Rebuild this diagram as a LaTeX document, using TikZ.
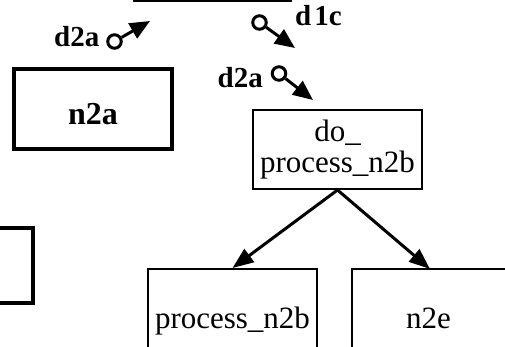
\documentclass[tikz,border=0pt]{standalone}
\usepackage{fontspec}
\setmainfont{Liberation Serif}
\usetikzlibrary{arrows.meta}
\tikzset{
  thickbox/.style={draw, line width=4pt, rectangle, inner sep=0pt, font=\fontsize{32}{34}\selectfont\bfseries},
  thinbox/.style={draw, line width=2pt, rectangle, inner sep=0pt, align=center, font=\fontsize{31}{31}\selectfont},
  edgelbl/.style={inner sep=0pt, font=\fontsize{29}{30}\selectfont\bfseries},
  ring/.style={draw, circle, line width=3pt, minimum size=13.5pt, inner sep=0pt},
  ringarrow/.style={line width=3pt, -{Triangle[length=20pt,width=17pt]}},
  mainarrow/.style={line width=3pt, -{Triangle[length=21pt,width=16pt]}}
}
\begin{document}
\begin{tikzpicture}[x=1pt,y=-1pt]
\useasboundingbox (0,0) rectangle (505,347);
\fill[white] (0,0) rectangle (505,347);
% boxes
\node[thickbox, minimum width=155pt, minimum height=80pt] (topbox) at (212.5,-40) {};
\node[thickbox, minimum width=158pt, minimum height=80pt, text height=31pt, text depth=0pt] (n2a) at (93,109) {n2a};
\node[thickbox, minimum width=158pt, minimum height=75pt] (leftbox) at (-46,265.5) {};
\node[thinbox, minimum width=169pt, minimum height=79pt, text height=50pt, text depth=3pt] (dp) at (337.5,149.5) {do\_\\process\_n2b};
\node[thinbox, minimum width=169pt, minimum height=80pt, text height=38.6pt, text depth=0pt] (pn) at (232.5,309) {process\_n2b};
\node[thinbox, minimum width=160pt, minimum height=80pt, text height=38.6pt, text depth=0pt] (ne) at (432,309) {\kern-7pt n2e};
% main edges
\draw[mainarrow] (dp.south) -- (pn.north);
\draw[mainarrow] (dp.south) -- (430,269) coordinate (nein);
% icons
\node[ring] (c1) at (114.5,41.5) {};
\coordinate (t1) at (150,21);
\draw[ringarrow] (c1) -- (t1);
\node[edgelbl, anchor=base east] (l1) at (99.5,47) {d2a};
\node[ring] (c2) at (259.5,22.5) {};
\coordinate (t2) at (295,48);
\draw[ringarrow] (c2) -- (t2);
\node[edgelbl, anchor=base west] (l2) at (295,26) {d\kern3pt 1c};
\node[ring] (c3) at (279,73.5) {};
\coordinate (t3) at (313,100);
\draw[ringarrow] (c3) -- (t3);
\node[edgelbl, anchor=base east] (l3) at (263,88) {d2a};
\end{tikzpicture}
\end{document}
